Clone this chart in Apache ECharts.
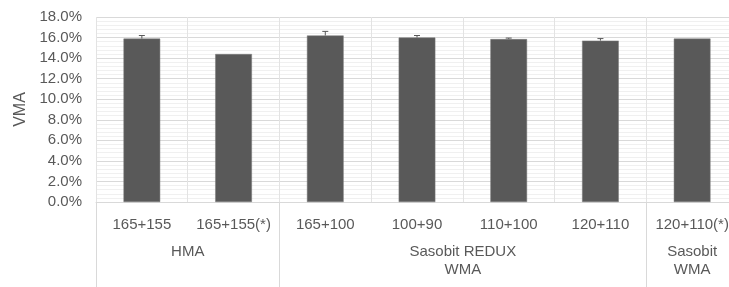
<!DOCTYPE html>
<html>
<head>
<meta charset="utf-8">
<script src="https://cdn.jsdelivr.net/npm/echarts@6/dist/echarts.min.js"></script>
<style>
  html, body { margin: 0; padding: 0; background: #fff; }
  #chart { width: 729px; height: 287px; }
</style>
</head>
<body>
<div id="chart"></div>
<script>
// categories and values (VMA in %)
var categories = ['165+155', '165+155(*)', '165+100', '100+90', '110+100', '120+110', '120+110(*)']
var vma = [15.9, 14.4, 16.2, 16.0, 15.85, 15.7, 15.9]
var errTop = [16.2, null, 16.6, 16.2, 15.95, 15.9, null]
var groups = ['HMA', 'Sasobit REDUX\nWMA', 'Sasobit\nWMA']
var groupCenters = [1, 4, 6.5]
var groupEdges = [0, 2, 6, 7]

var textColor = '#595959'
var font = 'Liberation Sans'

var errData = []
errTop.forEach(function (v, i) {
  if (v != null) errData.push([i, vma[i], v])
})

var myChart = echarts.init(document.getElementById('chart'))
var option = {
  animation: false,
  grid: { left: 96, top: 17, right: -9, bottom: 85, outerBoundsMode: 'none' },
  xAxis: [
    {
      type: 'category',
      data: categories,
      axisLine: { lineStyle: { color: '#d9d9d9' } },
      axisTick: { show: false },
      splitLine: { show: true, lineStyle: { color: '#e3e3e3' } },
      axisLabel: { color: textColor, fontFamily: font, fontSize: 15, margin: 15, interval: 0 }
    },
    {
      type: 'value',
      min: 0,
      max: 7,
      position: 'bottom',
      axisLine: { show: false },
      splitLine: { show: false },
      axisTick: {
        show: true,
        customValues: groupEdges,
        length: 90,
        lineStyle: { color: '#d9d9d9' }
      },
      axisLabel: {
        customValues: groupCenters,
        formatter: function (v) {
          return groups[groupCenters.indexOf(v)] || ''
        },
        color: textColor,
        fontFamily: font,
        fontSize: 15,
        lineHeight: 18,
        margin: 41,
        verticalAlign: 'top'
      }
    }
  ],
  yAxis: {
    type: 'value',
    min: 0,
    max: 18,
    interval: 2,
    name: 'VMA',
    nameLocation: 'middle',
    nameGap: 62,
    nameRotate: 90,
    nameTextStyle: { color: textColor, fontFamily: font, fontSize: 16 },
    axisLine: { show: false },
    axisTick: { show: false },
    axisLabel: {
      color: textColor, fontFamily: font, fontSize: 15, margin: 14,
      formatter: function (v) { return v.toFixed(1) + '%' }
    },
    splitLine: { lineStyle: { color: '#d9d9d9' } },
    minorTick: { show: false, splitNumber: 5 },
    minorSplitLine: { show: true, lineStyle: { color: '#f0f0f0' } }
  },
  series: [
    {
      type: 'bar',
      data: vma,
      barWidth: '40%',
      itemStyle: { color: '#595959', borderColor: '#7a7a7a', borderWidth: 0.5 }
    },
    {
      type: 'custom',
      data: errData,
      z: 5,
      renderItem: function (params, api) {
        var lo = api.coord([api.value(0), api.value(1)])
        var hi = api.coord([api.value(0), api.value(2)])
        var style = { stroke: '#595959', lineWidth: 1 }
        return {
          type: 'group',
          children: [
            { type: 'line', shape: { x1: lo[0], y1: lo[1], x2: hi[0], y2: hi[1] }, style: style },
            { type: 'line', shape: { x1: hi[0] - 3, y1: hi[1], x2: hi[0] + 3, y2: hi[1] }, style: style }
          ]
        }
      }
    }
  ]
}
myChart.setOption(option)
</script>
</body>
</html>
